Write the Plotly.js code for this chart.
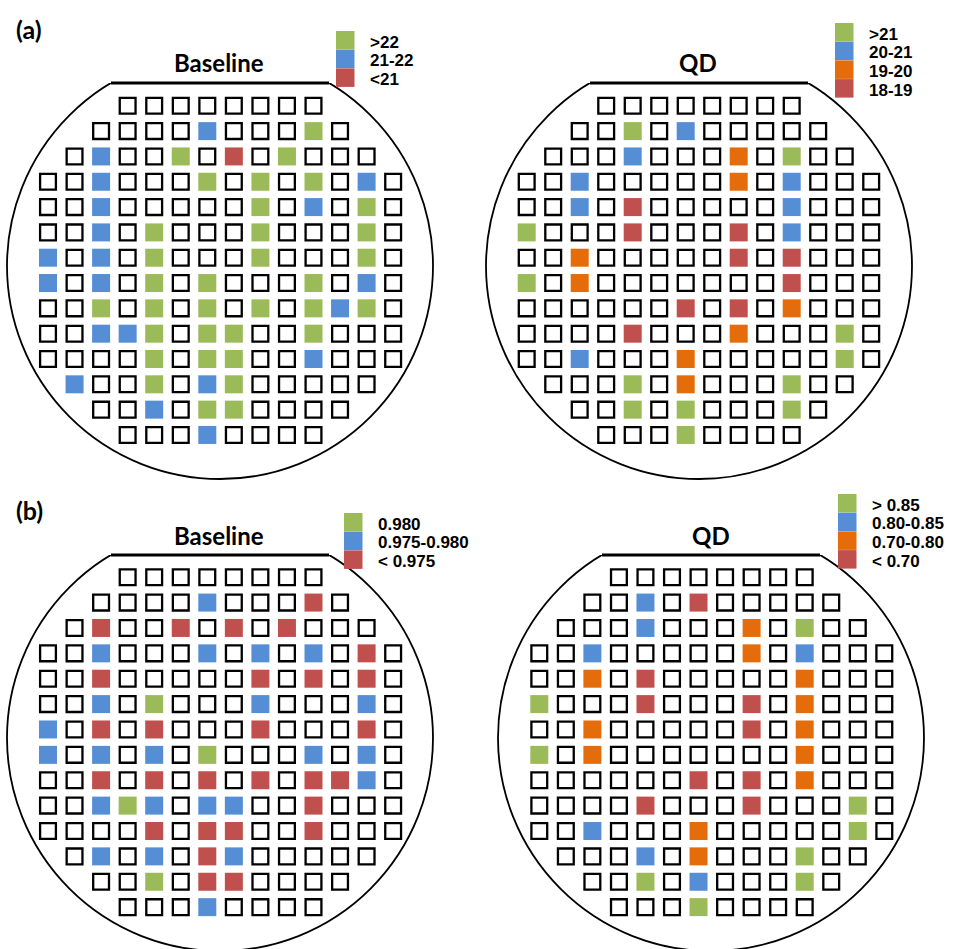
<!DOCTYPE html>
<html>
<head>
<meta charset="utf-8">
<script src="https://cdn.plot.ly/plotly-3.0.1.min.js"></script>
<style>
  html, body { margin: 0; padding: 0; background: #ffffff; }
  #chart { width: 953px; height: 949px; }
</style>
</head>
<body>
<div id="chart"></div>
<script>
// Wafer die maps, one string per die row (14 columns).
// ' ' = no die, '.' = die with no bin colour, G/B/O/R = bin colour.
const waferBaselineA = [
  "   ........   ",
  "  ....B...G.  ",
  " .B..G.R.G... ",
  "..B...G.G.G.B.",
  "..B.....G.B.G.",
  "..B.G...G...G.",
  "B.B.G...G...G.",
  "B.B.G.G...G.B.",
  "..G.G.G.G.GBG.",
  "..BBG.GG..G...",
  "....G.GG..B...",
  " B..G.BG..... ",
  "  ..B.GG....  ",
  "   ...B....   "
];

const waferQDA = [
  "   ........   ",
  "  ..G.B.....  ",
  " ...B...O.G.. ",
  "..B.....O.B...",
  "..B.R.....B...",
  "G...R...R.B...",
  "..O.....R.R...",
  "G.O.......R...",
  "......R.R.O...",
  "....R...O...G.",
  "..B...O.....G.",
  " ...G.O...G.. ",
  "  ..G.G...G.  ",
  "   ...G....   "
];

const waferBaselineB = [
  "   ........   ",
  "  ....B...R.  ",
  " .R..R.R.R... ",
  "..B...B.B.B.R.",
  "..R.....R.R.R.",
  "..B.G...B...B.",
  "B.R.R...R...R.",
  "B.B.B.G...B.B.",
  "..R.R.R.R.RRB.",
  "..BGB.BB..R...",
  "....R.RR..R...",
  " .B.B.RB..... ",
  "  ..G.RR....  ",
  "   ...B....   "
];

const waferQDB = [
  "   ........   ",
  "  ..B.R.....  ",
  " ...B...O.G.. ",
  "..B.....O.B...",
  "..O.R.....O...",
  "G...R...R.O...",
  "..O.....R.O...",
  "G.O.......O...",
  "......R.R.O...",
  "....R...R...G.",
  "..B...O.....G.",
  " ...B.O...G.. ",
  "  ..G.B...G.  ",
  "   ...G....   "
];

// Bin colours
const binColors = { G: "#9BBB59", B: "#558ED5", O: "#E46C0A", R: "#C0504D" };

// Legend entries per wafer map
const legendBinsBaselineA = ["G", "B", "R"];
const legendLabelsBaselineA = [">22", "21-22", "<21"];
const legendBinsQDA = ["G", "B", "O", "R"];
const legendLabelsQDA = [">21", "20-21", "19-20", "18-19"];
const legendBinsBaselineB = ["G", "B", "R"];
const legendLabelsBaselineB = ["0.980", "0.975-0.980", "< 0.975"];
const legendBinsQDB = ["G", "B", "O", "R"];
const legendLabelsQDB = ["> 0.85", "0.80-0.85", "0.70-0.80", "< 0.70"];

const W = 953, H = 949;

// Page geometry of each wafer panel (pixels)
const panels = [
  { map: waferBaselineA, title: "Baseline", bins: legendBinsBaselineA, labels: legendLabelsBaselineA,
    box: [0, 0, 476, 482], col0: 48, colPitch: 26.55, row0: 105.8, rowPitch: 25.32,
    cx: 220, cy: 266, r: 213, flatY: 83, titleX: 219, titleY: 63, legX: 336, legY: 31,
    tag: "(a)", tagY: 29.5 },
  { map: waferQDA, title: "QD", bins: legendBinsQDA, labels: legendLabelsQDA,
    box: [476, 0, 953, 482], col0: 526.7, colPitch: 26.5, row0: 105.8, rowPitch: 25.32,
    cx: 699, cy: 266, r: 213, flatY: 83, titleX: 698, titleY: 63, legX: 835, legY: 23 },
  { map: waferBaselineB, title: "Baseline", bins: legendBinsBaselineB, labels: legendLabelsBaselineB,
    box: [0, 482, 476, 949], col0: 48, colPitch: 26.55, row0: 577.2, rowPitch: 25.38,
    cx: 220, cy: 738, r: 213, flatY: 555, titleX: 219, titleY: 535, legX: 344, legY: 513,
    tag: "(b)", tagY: 510 },
  { map: waferQDB, title: "QD", bins: legendBinsQDB, labels: legendLabelsQDB,
    box: [476, 482, 953, 949], col0: 539.3, colPitch: 26.54, row0: 577.2, rowPitch: 25.38,
    cx: 711, cy: 738, r: 213, flatY: 555, titleX: 711, titleY: 535, legX: 838, legY: 494 }
];

const px = v => v / W;
const py = v => 1 - v / H;

const traces = [];
const shapes = [];
const annotations = [];
const layout = {
  width: W, height: H,
  margin: { l: 0, r: 0, t: 0, b: 0, pad: 0 },
  paper_bgcolor: "#ffffff",
  plot_bgcolor: "rgba(0,0,0,0)",
  showlegend: false,
  hovermode: false
};

const SWATCH = 18.5, SWATCH_PITCH = 18.7;

panels.forEach((p, i) => {
  const sfx = i === 0 ? "" : String(i + 1);
  const xa = "x" + sfx, ya = "y" + sfx;
  const [bx0, by0, bx1, by1] = p.box;

  layout["xaxis" + sfx] = {
    domain: [px(bx0), px(bx1)],
    range: [(bx0 - p.col0) / p.colPitch, (bx1 - p.col0) / p.colPitch],
    visible: false, fixedrange: true, anchor: ya
  };
  layout["yaxis" + sfx] = {
    domain: [py(by1), py(by0)],
    range: [(by1 - p.row0) / p.rowPitch, (by0 - p.row0) / p.rowPitch],
    visible: false, fixedrange: true, anchor: xa
  };

  // dies
  [".", "G", "B", "O", "R"].forEach(code => {
    const xs = [], ys = [];
    p.map.forEach((row, r) => {
      for (let c = 0; c < row.length; c++) {
        if (row[c] === code) { xs.push(c); ys.push(r); }
      }
    });
    if (!xs.length) return;
    const marker = code === "."
      ? { symbol: "square", size: 15.8, color: "#ffffff", line: { color: "#000000", width: 2.3 } }
      : { symbol: "square", size: 18, color: binColors[code], line: { width: 0 } };
    traces.push({ type: "scatter", mode: "markers", x: xs, y: ys, xaxis: xa, yaxis: ya,
                  marker, hoverinfo: "skip", cliponaxis: false });
  });

  // wafer outline with flat
  const toX = v => (v - p.col0) / p.colPitch;
  const toY = v => (v - p.row0) / p.rowPitch;
  const hw = Math.sqrt(p.r * p.r - (p.cy - p.flatY) * (p.cy - p.flatY));
  shapes.push({ type: "circle", xref: xa, yref: ya, layer: "below",
    x0: toX(p.cx - p.r), x1: toX(p.cx + p.r), y0: toY(p.cy - p.r), y1: toY(p.cy + p.r),
    line: { color: "#000000", width: 1.8 }, fillcolor: "rgba(0,0,0,0)" });
  shapes.push({ type: "rect", xref: xa, yref: ya, layer: "below",
    x0: toX(p.cx - hw - 3), x1: toX(p.cx + hw + 3), y0: toY(p.cy - p.r - 4), y1: toY(p.flatY),
    line: { width: 0 }, fillcolor: "#ffffff" });
  shapes.push({ type: "line", xref: xa, yref: ya, layer: "below",
    x0: toX(p.cx - hw), x1: toX(p.cx + hw), y0: toY(p.flatY), y1: toY(p.flatY),
    line: { color: "#000000", width: 3.2 } });

  // title
  annotations.push({ xref: "paper", yref: "paper", x: px(p.titleX), y: py(p.titleY),
    xanchor: "center", yanchor: "middle", showarrow: false, text: p.title,
    font: { family: "Lato, 'Open Sans', sans-serif", size: 24, weight: 700, color: "#000000" } });

  if (p.tag) {
    annotations.push({ xref: "paper", yref: "paper", x: px(14), y: py(p.tagY),
      xanchor: "left", yanchor: "middle", showarrow: false, text: p.tag,
      font: { family: "Lato, 'Open Sans', sans-serif", size: 25, weight: 700, color: "#000000" } });
  }

  // legend
  p.bins.forEach((b, k) => {
    const top = p.legY + k * SWATCH_PITCH;
    shapes.push({ type: "rect", xref: "paper", yref: "paper", layer: "above",
      x0: px(p.legX), x1: px(p.legX + SWATCH), y0: py(top + SWATCH), y1: py(top),
      line: { width: 0 }, fillcolor: binColors[b] });
    annotations.push({ xref: "paper", yref: "paper", x: px(p.legX + 31.5), y: py(top + SWATCH / 2 + 2),
      xanchor: "left", yanchor: "middle", showarrow: false, text: p.labels[k],
      font: { family: "'Liberation Sans', Arial, sans-serif", size: 17, weight: 700, color: "#000000" } });
  });
});

layout.shapes = shapes;
layout.annotations = annotations;

Plotly.newPlot("chart", traces, layout, { staticPlot: true, displayModeBar: false });
</script>
</body>
</html>
